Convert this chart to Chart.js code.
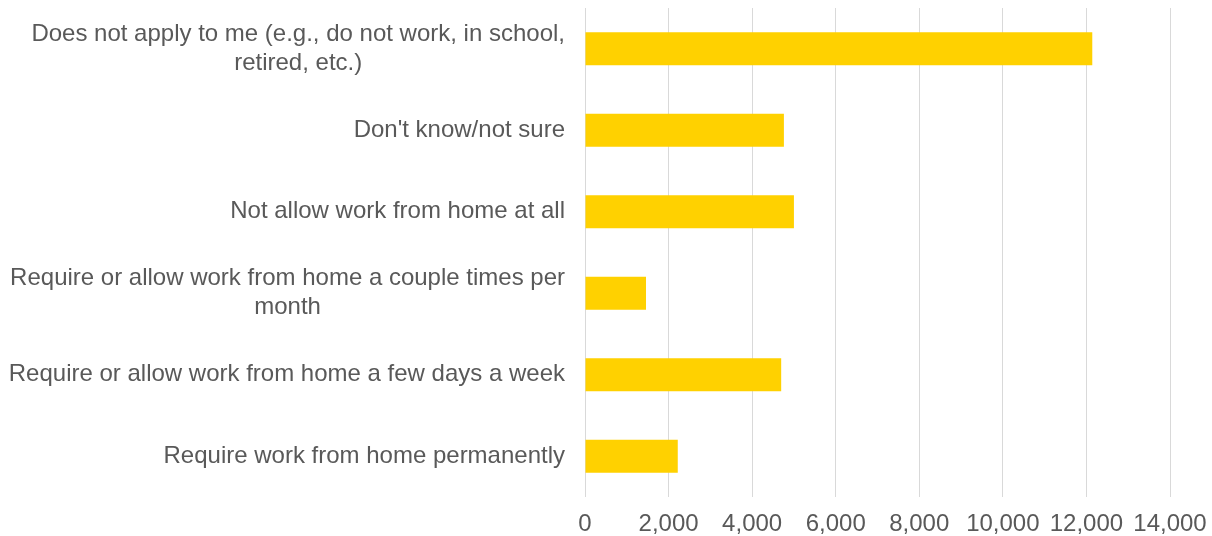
<!DOCTYPE html>
<html>
<head>
<meta charset="utf-8">
<script src="https://cdn.jsdelivr.net/npm/chart.js@4/dist/chart.umd.min.js"></script>
<style>
  html, body { margin: 0; padding: 0; background: #ffffff; }
  #wrap { width: 1212px; height: 536px; position: relative; }
</style>
</head>
<body>
<div id="wrap"><canvas id="c" width="1212" height="536"></canvas></div>
<script>
const categories = [
  ["Does not apply to me (e.g., do not work, in school,", "retired, etc.)"],
  ["Don't know/not sure"],
  ["Not allow work from home at all"],
  ["Require or allow work from home a couple times per", "month"],
  ["Require or allow work from home a few days a week"],
  ["Require work from home permanently"]
];
const counts = [12140, 4760, 5000, 1460, 4695, 2220];
const xMin = 0;
const xMax = 14000;
const xStep = 2000;

const FONT = '"Liberation Sans", Arial, sans-serif';
const TEXT_COLOR = '#595959';
const FONT_SIZE = 24;
const LINE_H = 29;

const labelPlugin = {
  id: 'centeredYLabels',
  afterDraw(chart) {
    const scale = chart.scales.y;
    const ctx = chart.ctx;
    ctx.save();
    ctx.font = FONT_SIZE + 'px ' + FONT;
    ctx.fillStyle = TEXT_COLOR;
    ctx.textAlign = 'center';
    ctx.textBaseline = 'middle';
    const rightEdge = scale.right - 20;
    categories.forEach((lines, i) => {
      const y = scale.getPixelForTick(i);
      let w = 0;
      lines.forEach(l => { w = Math.max(w, ctx.measureText(l).width); });
      const cx = rightEdge - w / 2;
      const y0 = y - (lines.length - 1) * LINE_H / 2;
      lines.forEach((l, j) => ctx.fillText(l, cx, y0 + j * LINE_H));
    });
    ctx.restore();
  }
};

new Chart(document.getElementById('c'), {
  type: 'bar',
  data: {
    labels: categories,
    datasets: [{
      data: counts,
      backgroundColor: '#FFD100',
      borderWidth: 0,
      barPercentage: 0.405,
      categoryPercentage: 1.0
    }]
  },
  options: {
    indexAxis: 'y',
    responsive: false,
    animation: false,
    devicePixelRatio: 1,
    layout: { padding: { top: 8, right: 42, bottom: 0, left: 0 } },
    plugins: {
      legend: { display: false },
      tooltip: { enabled: false }
    },
    scales: {
      x: {
        min: xMin,
        max: xMax,
        ticks: {
          stepSize: xStep,
          color: TEXT_COLOR,
          font: { family: FONT, size: FONT_SIZE },
          padding: 13,
          maxRotation: 0,
          autoSkip: false,
          callback: v => Number(v).toLocaleString('en-US')
        },
        grid: { color: '#D9D9D9', lineWidth: 1, drawTicks: false },
        border: { display: false },
        afterFit: s => { s.height = 39; s.paddingLeft = 0; s.paddingRight = 0; }
      },
      y: {
        ticks: { display: false },
        grid: { display: false },
        border: { display: false },
        afterFit: s => { s.width = 585; s.paddingTop = 0; s.paddingBottom = 0; }
      }
    }
  },
  plugins: [labelPlugin]
});
</script>
</body>
</html>
